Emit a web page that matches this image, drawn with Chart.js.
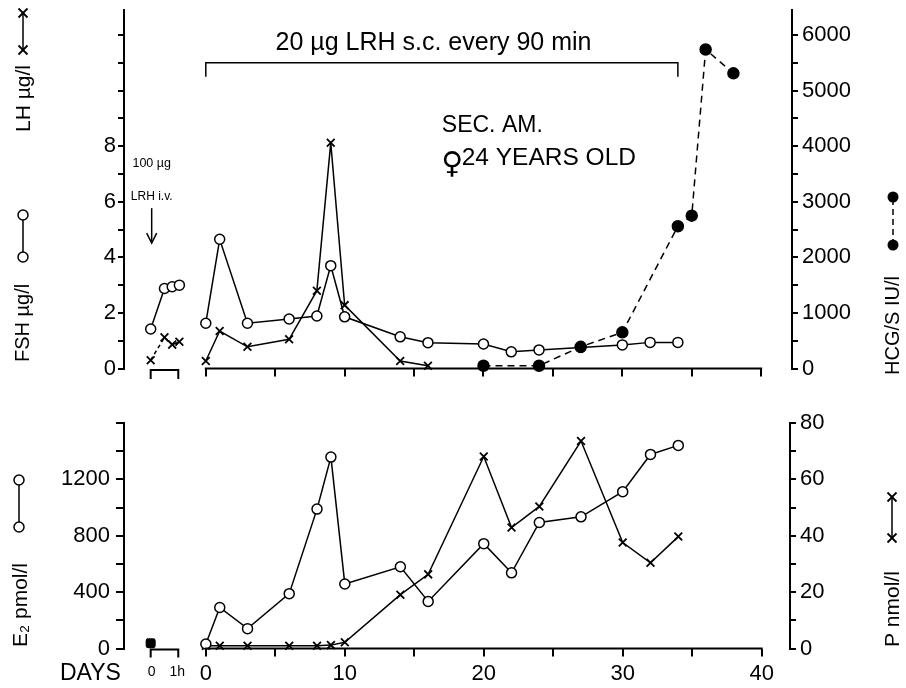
<!DOCTYPE html>
<html><head><meta charset="utf-8">
<script src="https://cdn.jsdelivr.net/npm/chart.js@4.4.1/dist/chart.umd.min.js"></script>
<style>
html,body{margin:0;padding:0;background:#fff;}
#wrap{position:relative;width:906px;height:688px;overflow:hidden;background:#fff;}
canvas{position:absolute;left:0;}
#c1{top:0}
#c2{top:400px}
</style></head><body>
<div id="wrap"><canvas id="c1" width="906" height="400"></canvas><canvas id="c2" width="906" height="288"></canvas></div>
<script>
// ---------------- data ----------------
// pre-test (100 µg LRH i.v.), time in hours
const preHours = [0, 0.5, 0.78, 1.04];
const fshPre = [1.42, 2.88, 2.94, 3.0];
const lhPre = [0.3, 1.12, 0.86, 0.96];
const steroidPreHours = [0];
const e2Pre = [37];
const pPre = [2];

// top panel (days)
const gonadDays = [0, 1, 3, 6, 8, 9, 10, 14, 16, 20, 22, 24, 27, 30, 32, 34];
const fshValues = [1.63, 4.65, 1.63, 1.78, 1.89, 3.7, 1.86, 1.14, 0.93, 0.88, 0.6, 0.67, 0.76, 0.85, 0.94, 0.94];
const lhDays = [0, 1, 3, 6, 8, 9, 10, 14, 16];
const lhValues = [0.27, 1.35, 0.78, 1.05, 2.8, 8.12, 2.28, 0.27, 0.1];
const hcgDays = [20, 24, 27, 30, 34, 35, 36, 38];
const hcgValues = [50, 50, 390, 650, 2560, 2750, 5740, 5310];

// bottom panel (days)
const steroidDays = [0, 1, 3, 6, 8, 9, 10, 14, 16, 20, 22, 24, 27, 30, 32, 34];
const e2Values = [32, 291, 141, 389, 989, 1358, 458, 580, 334, 744, 537, 894, 934, 1113, 1377, 1441];
const pValues = [1, 1, 1, 1, 1, 1.2, 2.2, 19.1, 26.3, 68.1, 42.9, 50.4, 73.6, 37.6, 30.4, 39.7];

// ticks
const dayTicks = [0, 5, 10, 15, 20, 25, 30, 35, 40];
const dayTickLabels = [0, 10, 20, 30, 40];
const hourTicks = [0, 1];
const hourTickLabels = ['0', '1h'];
const lhTicks = [0, 1, 2, 3, 4, 5, 6, 7, 8, 9, 10, 11, 12];
const lhTickLabels = [0, 2, 4, 6, 8];
const hcgTicks = [0, 500, 1000, 1500, 2000, 2500, 3000, 3500, 4000, 4500, 5000, 5500, 6000];
const hcgTickLabels = [0, 1000, 2000, 3000, 4000, 5000, 6000];
const e2Ticks = [0, 200, 400, 600, 800, 1000, 1200, 1400, 1600];
const e2TickLabels = [0, 400, 800, 1200];
const pTicks = [0, 10, 20, 30, 40, 50, 60, 70, 80];
const pTickLabels = [0, 20, 40, 60, 80];

// annotations
const scBracketDays = [0, 34];

// ---------------- helpers ----------------
const FONT = '"Liberation Sans", Arial, Helvetica, sans-serif';
Chart.defaults.font.family = FONT;
Chart.defaults.color = '#000';

function pts(xs, ys) { return xs.map((x, i) => ({x: x, y: ys[i]})); }

function yAxis(o) {
  return {
    type: 'linear', position: o.position, min: o.min, max: o.max,
    afterBuildTicks: s => { s.ticks = o.ticks.map(v => ({value: v})); },
    afterFit: s => { s.width = o.width; s.paddingTop = 0; s.paddingBottom = 0; },
    grid: {drawOnChartArea: false, drawTicks: true, tickLength: o.tickLength, color: '#000', lineWidth: 2},
    border: {display: true, color: '#000', width: 2},
    ticks: {autoSkip: false, padding: o.padding, color: '#000', font: {size: 22},
      callback: v => o.labels.includes(v) ? String(v) : ''}
  };
}
function xAxis(o) {
  return {
    type: 'linear', position: 'bottom', min: o.min, max: o.max,
    afterBuildTicks: s => { s.ticks = dayTicks.map(v => ({value: v})); },
    afterFit: s => { s.height = o.height; s.paddingLeft = 0; s.paddingRight = 0; },
    grid: {drawOnChartArea: false, drawTicks: true, tickLength: 8, color: '#000', lineWidth: 2},
    border: {display: false},
    ticks: {display: o.showLabels, autoSkip: false, maxRotation: 0, padding: 4, color: '#000', font: {size: 22},
      callback: v => dayTickLabels.includes(v) ? String(v) : ''}
  };
}
function hourAxis(min, max) { return {type: 'linear', display: false, position: 'bottom', min: min, max: max}; }

function txt(ctx, s, px, py, size, align, family) {
  ctx.font = size + 'px ' + (family || FONT);
  ctx.textAlign = align || 'left';
  ctx.textBaseline = 'middle';
  ctx.fillText(s, px, py);
}
function vtxt(ctx, s, cx, yBottom, size) {
  ctx.save();
  ctx.translate(cx + 0.36 * size, yBottom);
  ctx.rotate(-Math.PI / 2);
  ctx.font = size + 'px ' + FONT;
  ctx.textAlign = 'left';
  ctx.textBaseline = 'alphabetic';
  ctx.fillText(s, 0, 0);
  ctx.restore();
}
function line(ctx, x0, y0, x1, y1, dash) {
  ctx.save(); ctx.setLineDash(dash || []);
  ctx.beginPath(); ctx.moveTo(x0, y0); ctx.lineTo(x1, y1); ctx.stroke(); ctx.restore();
}
function circ(ctx, cx, cy, r, filled) {
  ctx.beginPath(); ctx.arc(cx, cy, r, 0, Math.PI * 2);
  if (filled) { ctx.fill(); } else { ctx.fillStyle = '#fff'; ctx.fill(); ctx.fillStyle = '#000'; ctx.stroke(); }
}
function cross(ctx, cx, cy, r) {
  line(ctx, cx - r, cy - r, cx + r, cy + r); line(ctx, cx - r, cy + r, cx + r, cy - r);
}
function bracket(ctx, x0, x1, yTop, leg) {
  ctx.beginPath(); ctx.moveTo(x0, yTop + leg); ctx.lineTo(x0, yTop); ctx.lineTo(x1, yTop); ctx.lineTo(x1, yTop + leg); ctx.stroke();
}

const lineStyle = {borderColor: '#000', borderWidth: 1.5, pointBorderColor: '#000', pointBorderWidth: 1.5, clip: false, tension: 0, fill: false};
const openCircle = Object.assign({}, lineStyle, {pointStyle: 'circle', pointRadius: 5, pointBackgroundColor: '#fff'});
const crossMark = Object.assign({}, lineStyle, {pointStyle: 'crossRot', pointRadius: 5.5, pointBorderWidth: 1.8, pointBackgroundColor: '#000'});

// ---------------- top chart ----------------
const topDecor = {
  id: 'topDecor',
  afterDraw(chart) {
    const ctx = chart.ctx, ca = chart.chartArea, x = chart.scales.x, xh = chart.scales.xh, y = chart.scales.y;
    ctx.save();
    ctx.strokeStyle = '#000'; ctx.fillStyle = '#000';
    ctx.lineWidth = 2;
    line(ctx, x.getPixelForValue(dayTicks[0]) - 1, ca.bottom, x.getPixelForValue(dayTicks[dayTicks.length - 1]) + 1, ca.bottom);
    bracket(ctx, xh.getPixelForValue(hourTicks[0]), xh.getPixelForValue(hourTicks[1]), ca.bottom + 1.5, 9);
    // s.c. bracket
    ctx.lineWidth = 1.5;
    bracket(ctx, x.getPixelForValue(scBracketDays[0]), x.getPixelForValue(scBracketDays[1]), y.getPixelForValue(11), y.getPixelForValue(10.5) - y.getPixelForValue(11));
    txt(ctx, '20 \u00b5g LRH s.c. every 90 min', x.getPixelForValue(16.4), y.getPixelForValue(11.72), 25, 'center');
    // i.v. note + arrow
    const h0 = xh.getPixelForValue(0) + 1;
    txt(ctx, '100 \u00b5g', h0, y.getPixelForValue(7.39), 12.5, 'center');
    txt(ctx, 'LRH i.v.', h0, y.getPixelForValue(6.2), 12, 'center');
    const a0 = y.getPixelForValue(5.77), a1 = y.getPixelForValue(4.51);
    line(ctx, h0, a0, h0, a1);
    ctx.beginPath(); ctx.moveTo(h0 - 5, a1 - 10); ctx.lineTo(h0, a1); ctx.lineTo(h0 + 5, a1 - 10); ctx.stroke();
    // subject text
    txt(ctx, 'SEC. AM.', x.getPixelForValue(17.0), y.getPixelForValue(8.74), 23, 'left');
    txt(ctx, '\u2640', x.getPixelForValue(16.95), y.getPixelForValue(7.3), 30, 'left', '"DejaVu Sans", sans-serif');
    txt(ctx, '24 YEARS OLD', x.getPixelForValue(18.43), y.getPixelForValue(7.57), 24.5, 'left');
    // axis titles
    vtxt(ctx, 'LH \u00b5g/l', 22, 132, 21);
    ctx.lineWidth = 1.5;
    line(ctx, 23, 50, 23, 13);
    ctx.lineWidth = 1.8; cross(ctx, 23, 50, 4.5); cross(ctx, 23, 13, 4.5);
    vtxt(ctx, 'FSH \u00b5g/l', 22, 362, 20);
    ctx.lineWidth = 1.5;
    line(ctx, 23, 257, 23, 215);
    circ(ctx, 23, 257, 5, false); circ(ctx, 23, 215, 5, false);
    vtxt(ctx, 'HCG/S IU/l', 892, 375, 20);
    line(ctx, 893, 245, 893, 197, [6, 4]);
    circ(ctx, 893, 245, 5.5, true); circ(ctx, 893, 197, 5.5, true);
    ctx.restore();
  }
};

new Chart(document.getElementById('c1'), {
  type: 'line',
  data: {datasets: [
    Object.assign({}, lineStyle, {label: 'HCG/S', xAxisID: 'x', yAxisID: 'y2', data: pts(hcgDays, hcgValues),
      borderDash: [7, 5], pointStyle: 'circle', pointRadius: 5.5, pointBackgroundColor: '#000'}),
    Object.assign({}, openCircle, {label: 'FSH', xAxisID: 'x', yAxisID: 'y', data: pts(gonadDays, fshValues)}),
    Object.assign({}, openCircle, {label: 'FSH pre', xAxisID: 'xh', yAxisID: 'y', data: pts(preHours, fshPre)}),
    Object.assign({}, crossMark, {label: 'LH', xAxisID: 'x', yAxisID: 'y', data: pts(lhDays, lhValues)}),
    Object.assign({}, crossMark, {label: 'LH pre', xAxisID: 'xh', yAxisID: 'y', data: pts(preHours, lhPre),
      segment: {borderDash: c => c.p0DataIndex === 0 ? [4, 3] : undefined}})
  ]},
  options: {
    responsive: false, animation: false, devicePixelRatio: 1, events: [],
    layout: {padding: {top: 10, left: 0, right: 0, bottom: 0}},
    plugins: {legend: {display: false}, tooltip: {enabled: false}},
    scales: {
      x: xAxis({min: -5.891, max: 42.22, height: 31.5, showLabels: false}),
      xh: hourAxis(-0.967, 23.24),
      y: yAxis({position: 'left', min: 0, max: 12.9, ticks: lhTicks, labels: lhTickLabels, width: 124, tickLength: 6, padding: 2}),
      y2: yAxis({position: 'right', min: 0, max: 6450, ticks: hcgTicks, labels: hcgTickLabels, width: 114, tickLength: 6, padding: 4})
    }
  },
  plugins: [topDecor]
});

// ---------------- bottom chart ----------------
const bottomDecor = {
  id: 'bottomDecor',
  afterDraw(chart) {
    const ctx = chart.ctx, ca = chart.chartArea, x = chart.scales.x, xh = chart.scales.xh;
    ctx.save();
    ctx.strokeStyle = '#000'; ctx.fillStyle = '#000';
    ctx.lineWidth = 2;
    line(ctx, x.getPixelForValue(dayTicks[0]) - 1, ca.bottom, x.getPixelForValue(dayTicks[dayTicks.length - 1]) + 1, ca.bottom);
    const hx0 = xh.getPixelForValue(hourTicks[0]), hx1 = xh.getPixelForValue(hourTicks[1]);
    bracket(ctx, hx0, hx1, ca.bottom + 1, 8);
    txt(ctx, hourTickLabels[0], hx0 + 1, ca.bottom + 23.5, 14, 'center');
    txt(ctx, hourTickLabels[1], hx1 - 1, ca.bottom + 23.5, 14, 'center');
    txt(ctx, 'DAYS', 60, ca.bottom + 25, 23, 'left');
    // axis titles
    vtxt(ctx, 'E\u2082 pmol/l', 19, 247, 21);
    ctx.lineWidth = 1.5;
    line(ctx, 19, 80, 19, 127);
    circ(ctx, 19, 80, 5, false); circ(ctx, 19, 127, 5, false);
    vtxt(ctx, 'P nmol/l', 891, 247, 21);
    line(ctx, 892, 97, 892, 138);
    ctx.lineWidth = 1.8; cross(ctx, 892, 97, 4.5); cross(ctx, 892, 138, 4.5);
    ctx.restore();
  }
};

new Chart(document.getElementById('c2'), {
  type: 'line',
  data: {datasets: [
    Object.assign({}, openCircle, {label: 'E2', xAxisID: 'x', yAxisID: 'y', data: pts(steroidDays, e2Values)}),
    Object.assign({}, openCircle, {label: 'E2 pre', xAxisID: 'xh', yAxisID: 'y', data: pts(steroidPreHours, e2Pre),
      pointStyle: 'rectRounded', pointRadius: 5, pointBackgroundColor: '#000'}),
    Object.assign({}, crossMark, {label: 'P', xAxisID: 'x', yAxisID: 'y2', data: pts(steroidDays, pValues)}),
    Object.assign({}, crossMark, {label: 'P pre', xAxisID: 'xh', yAxisID: 'y2', data: pts(steroidPreHours, pPre)})
  ]},
  options: {
    responsive: false, animation: false, devicePixelRatio: 1, events: [],
    layout: {padding: {top: 23, left: 0, right: 0, bottom: 0}},
    plugins: {legend: {display: false}, tooltip: {enabled: false}},
    scales: {
      x: xAxis({min: -5.891, max: 42.04, height: 39.5, showLabels: true}),
      xh: hourAxis(-0.967, 23.17),
      y: yAxis({position: 'left', min: 0, max: 1600, ticks: e2Ticks, labels: e2TickLabels, width: 124, tickLength: 8, padding: 6}),
      y2: yAxis({position: 'right', min: 0, max: 80, ticks: pTicks, labels: pTickLabels, width: 116, tickLength: 6, padding: 4})
    }
  },
  plugins: [bottomDecor]
});
</script>
</body></html>
